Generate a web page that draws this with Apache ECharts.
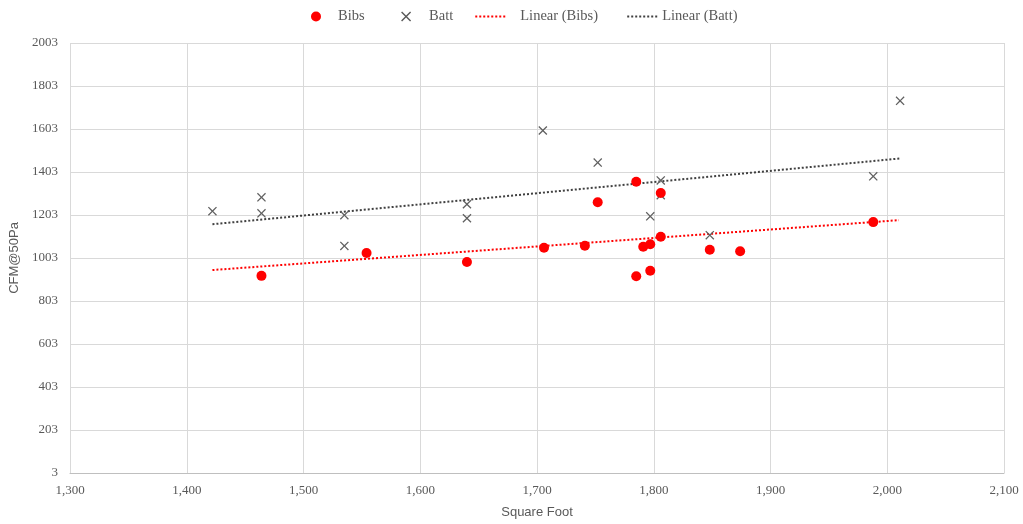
<!DOCTYPE html>
<html><head><meta charset="utf-8">
<script src="https://cdn.jsdelivr.net/npm/echarts@6/dist/echarts.min.js"></script>
<style>html,body{margin:0;padding:0;background:#fff}#c{width:1023px;height:524px}</style>
</head><body><div id="c"></div>
<script>
var bibsX = [1464, 1554, 1640, 1706, 1741, 1791, 1797, 1806, 1785, 1797, 1785, 1806, 1752, 1848, 1874, 1988];
var bibsY = [920, 1026, 984, 1051, 1060, 1055, 1067, 1102, 918, 944, 1358, 1305, 1262, 1041, 1034, 1170];
var battX = [1422, 1464, 1464, 1535, 1535, 1640, 1640, 1705, 1752, 1806, 1806, 1797, 1848, 1988, 2011];
var battY = [1221, 1285, 1211, 1202, 1059, 1253, 1188, 1596, 1447, 1364, 1295, 1197, 1109, 1383, 1734];
var trendBibsX = [1422, 2010];
var trendBibsY = [947, 1179];
var trendBattX = [1422, 2011];
var trendBattY = [1160, 1466];

function pairs(xs, ys){ return xs.map(function(x,i){return [x, ys[i]];}); }
var xMark = 'path://M0,1L1,0L5,4L9,0L10,1L6,5L10,9L9,10L5,6L1,10L0,9L4,5Z';
var dotLine = 'path://M0,0h2v2h-2zM4,0h2v2h-2zM8,0h2v2h-2zM12,0h2v2h-2zM16,0h2v2h-2zM20,0h2v2h-2zM24,0h2v2h-2zM28,0h2v2h-2z';
var serif = 'Liberation Serif';
var legendTrail = {'Bibs': '\u2003', 'Linear (Bibs)': '\u2002'};
var chart = echarts.init(document.getElementById('c'));
chart.setOption({
  animation: false,
  grid: {left: 70, right: 19, top: 43, bottom: 49, containLabel: false},
  legend: {
    top: 4, left: 306, itemGap: 22, itemWidth: 30, itemHeight: 10,
    formatter: function(name){ return name + (legendTrail[name] || ''); },
    textStyle: {fontFamily: serif, fontSize: 14.5, color: '#595959'},
    data: [
      {name: 'Bibs', icon: 'circle', itemStyle: {color: '#ff0000'}, textStyle: {padding: [0, 0, 0, 2]}},
      {name: 'Batt', icon: xMark, itemStyle: {color: '#595959'}, textStyle: {padding: [0, 0, 0, 3]}},
      {name: 'Linear (Bibs)', icon: dotLine, itemStyle: {color: '#ff0000'}, textStyle: {padding: [0, 0, 0, 10]}},
      {name: 'Linear (Batt)', icon: dotLine, itemStyle: {color: '#404040'}}
    ]
  },
  xAxis: {
    type: 'value', min: 1300, max: 2100, interval: 100,
    name: 'Square Foot', nameLocation: 'middle', nameGap: 33,
    nameTextStyle: {fontFamily: 'Liberation Sans', fontSize: 13, color: '#595959'},
    axisLine: {show: true, lineStyle: {color: '#bfbfbf'}},
    axisTick: {show: false},
    axisLabel: {fontFamily: serif, fontSize: 13, color: '#595959', margin: 11,
      formatter: function(v){ return v.toString().replace(/\B(?=(\d{3})+(?!\d))/g, ','); }},
    splitLine: {show: true, lineStyle: {color: '#d9d9d9'}}
  },
  yAxis: {
    type: 'value', min: 3, max: 2003, interval: 200,
    name: 'CFM@50Pa', nameLocation: 'middle', nameGap: 48, nameRotate: 90,
    nameTextStyle: {fontFamily: 'Liberation Sans', fontSize: 13, color: '#595959'},
    axisLine: {show: false}, axisTick: {show: false},
    axisLabel: {fontFamily: serif, fontSize: 13, color: '#595959', margin: 12,
      formatter: function(v){ return String(v); }},
    splitLine: {show: true, lineStyle: {color: '#d9d9d9'}}
  },
  series: [
    {name: 'Bibs', type: 'scatter', symbol: 'circle', symbolSize: 10, itemStyle: {color: '#ff0000', opacity: 1}, data: pairs(bibsX, bibsY), z: 5},
    {name: 'Batt', type: 'scatter', symbol: xMark, symbolSize: 9, itemStyle: {color: '#606060', opacity: 1}, data: pairs(battX, battY), z: 4},
    {name: 'Linear (Bibs)', type: 'line', showSymbol: false, symbol: 'none', data: pairs(trendBibsX, trendBibsY),
      lineStyle: {color: '#ff0000', width: 2, type: [2, 2]}, itemStyle: {color: '#ff0000'}, z: 3},
    {name: 'Linear (Batt)', type: 'line', showSymbol: false, symbol: 'none', data: pairs(trendBattX, trendBattY),
      lineStyle: {color: '#404040', width: 2, type: [2, 2]}, itemStyle: {color: '#404040'}, z: 3}
  ]
});
</script></body></html>
